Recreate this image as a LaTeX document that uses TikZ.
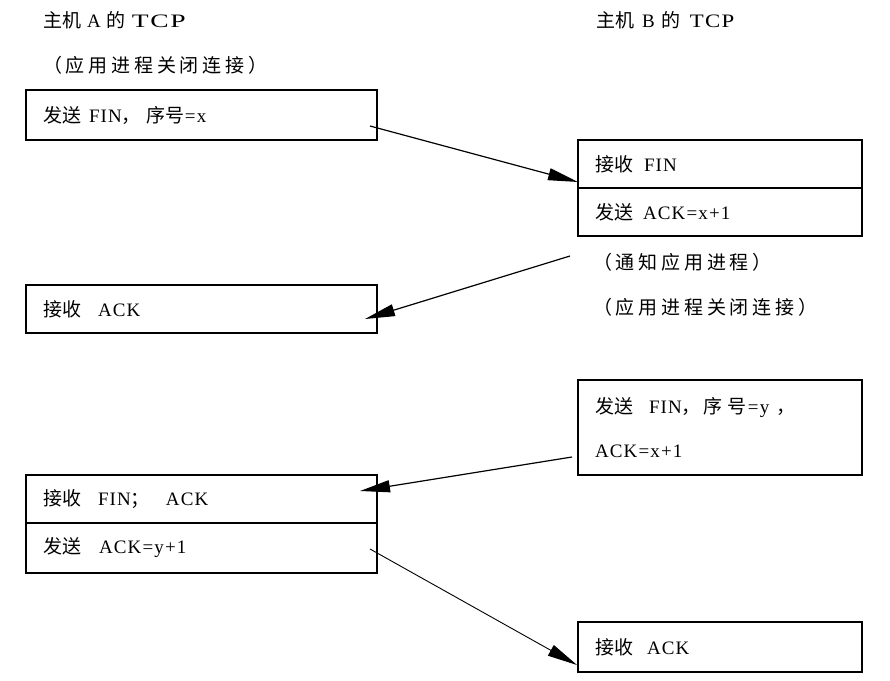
\documentclass[tikz,border=0pt]{standalone}
\usepackage{fontspec}
\setmainfont{Liberation Serif}[LetterSpace=6]
\newfontfamily\cjk{Noto Sans CJK SC}
\newfontfamily\cjkw{Noto Sans CJK SC}[LetterSpace=20]
\newcommand{\zh}[1]{{\cjk #1}}
\usetikzlibrary{arrows.meta}
\begin{document}
\begin{tikzpicture}[x=1pt,y=-1pt,
  txt/.style={anchor=west, inner sep=0pt, font=\fontsize{19}{22}\selectfont},
  box/.style={draw, line width=1.3pt, inner xsep=17pt, inner ysep=0pt, outer sep=0pt,
    align=left, anchor=north west, font=\fontsize{19}{22}\selectfont},
  abox/.style={box, text width=317pt},
  bbox/.style={box, text width=250pt},
  msg/.style={line width=1.2pt, -{Triangle[length=30pt,width=12pt]}}
]
\useasboundingbox (0,0) rectangle (890,680);
\fill[white] (0,0) rectangle (890,680);

% titles
\node[txt] (ta) at (43,20) {\zh{主机}\hspace{6pt}A\hspace{6pt}\zh{的}\hspace{6pt}\scalebox{1.45}[1]{TCP}};
\node[txt] (tb) at (596,20) {\zh{主机}\hspace{8pt}B\hspace{7pt}\zh{的}\hspace{9pt}\scalebox{1.2}[1]{TCP}};
\node[txt] (ca) at (43,65) {{\cjkw （应用进程关闭连接）}};

% host A boxes
\node[abox, minimum height=50pt] (a1) at (26,90) {\zh{发送}\hspace{8pt}FIN\zh{，}\hspace{6pt}\zh{序号}=x};
\node[abox, minimum height=48pt] (a2) at (26,285) {\zh{接收}\hspace{17pt}ACK};
\node[abox, minimum height=48pt] (a3a) at (26,475) {\zh{接收}\hspace{17pt}FIN\zh{；}\hspace{16pt}ACK};
\node[abox, minimum height=50pt] (a3b) at (26,523) {\zh{发送}\hspace{18pt}ACK=y+1};

% host B boxes
\node[bbox, minimum height=48pt] (b1a) at (578,140) {\zh{接收}\hspace{11pt}FIN};
\node[bbox, minimum height=48pt] (b1b) at (578,188) {\zh{发送}\hspace{10pt}ACK=x+1};
\node[txt] (nb1) at (593,262) {{\cjkw （通知应用进程）}};
\node[txt] (nb2) at (593,307) {{\cjkw （应用进程关闭连接）}};
\node[bbox, minimum height=95pt] (b2) at (578,380)
  {\zh{发}\hspace{1pt}\zh{送}\hspace{15pt}FIN\zh{，}\hspace{3pt}\zh{序}\hspace{5pt}\zh{号}\hspace{1pt}=y\hspace{7pt}\zh{，}\\[22pt]ACK=x+1};
\node[bbox, minimum height=50pt] (b3) at (578,622) {\zh{接收}\hspace{14pt}ACK};

% messages
\draw[msg] ([xshift=-7pt,yshift=-11pt]a1.east) -- ([yshift=6pt]b1a.south west);
\draw[msg] ([xshift=-8pt,yshift=-20pt]b1b.south west) -- ([xshift=-12pt,yshift=-10pt]a2.east);
\draw[msg] ([xshift=-6pt,yshift=18pt]b2.south west) -- ([xshift=-17pt,yshift=-16pt]a3a.north east);
\draw[msg, line width=0.9pt] ([xshift=-7pt,yshift=-1pt]a3b.east) -- ([xshift=-1pt,yshift=-18pt]b3.west);
\end{tikzpicture}
\end{document}
